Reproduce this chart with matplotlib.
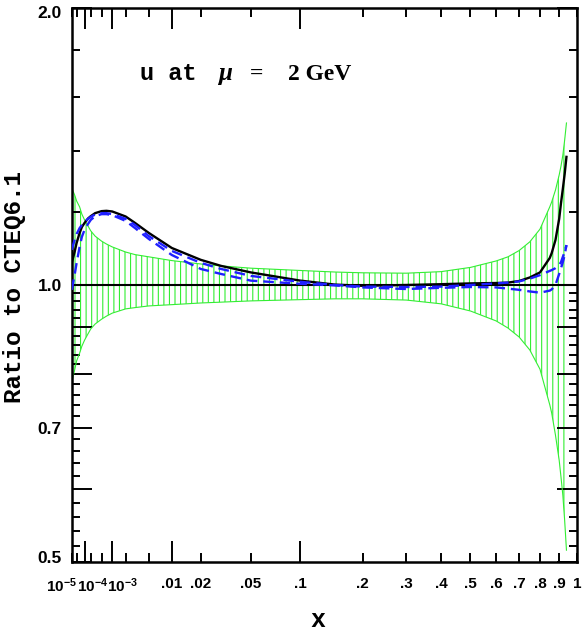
import numpy as np
import matplotlib
matplotlib.use("Agg")
import matplotlib.pyplot as plt
from matplotlib.ticker import FixedLocator, FixedFormatter, NullFormatter
from matplotlib.transforms import ScaledTranslation

plt.rcParams['font.family'] = ['Liberation Sans', 'DejaVu Sans']
plt.rcParams['font.weight'] = 'bold'
plt.rcParams['mathtext.fontset'] = 'custom'
plt.rcParams['mathtext.rm'] = 'Liberation Serif:bold'
plt.rcParams['mathtext.it'] = 'Liberation Serif:italic:bold'
plt.rcParams['mathtext.bf'] = 'Liberation Sans:bold'
plt.rcParams['hatch.linewidth'] = 0.8

# ---------------- data ----------------
x = [1e-5, 2e-5, 3e-5, 5e-5, 7e-5, 1e-4, 1.5e-4, 2e-4, 3e-4, 5e-4, 7e-4, 1e-3, 2e-3, 3e-3, 5e-3,
     0.01, 0.02, 0.03, 0.05, 0.1, 0.15, 0.2, 0.3, 0.4, 0.5, 0.6, 0.65, 0.7, 0.75, 0.8, 0.85,
     0.86, 0.88, 0.9, 0.91, 0.92, 0.93, 0.94]
band_hi = [1.275, 1.253, 1.234, 1.216, 1.194, 1.177, 1.159, 1.145, 1.130, 1.116, 1.108, 1.100,
           1.086, 1.079, 1.073, 1.063, 1.054, 1.049, 1.043, 1.037, 1.033, 1.031, 1.030, 1.034,
           1.045, 1.062, 1.073, 1.090, 1.114, 1.150, 1.216, 1.231, 1.268, 1.317, 1.347, 1.384,
           1.437, 1.500]
band_lo = [0.784, 0.808, 0.827, 0.843, 0.858, 0.871, 0.885, 0.896, 0.907, 0.918, 0.925, 0.932,
           0.942, 0.945, 0.949, 0.952, 0.956, 0.958, 0.961, 0.964, 0.966, 0.966, 0.963, 0.954,
           0.937, 0.914, 0.898, 0.878, 0.850, 0.810, 0.741, 0.726, 0.687, 0.645, 0.618, 0.591,
           0.555, 0.515]
black = [1.057, 1.086, 1.111, 1.139, 1.156, 1.168, 1.181, 1.188, 1.197, 1.203, 1.204, 1.202,
         1.187, 1.168, 1.139, 1.097, 1.065, 1.049, 1.032, 1.011, 1.001, 0.998, 1.000, 1.002,
         1.004, 1.005, 1.006, 1.010, 1.019, 1.032, 1.070, 1.083, 1.119, 1.180, 1.228, 1.272,
         1.320, 1.378]
blue1 = [1.092, 1.119, 1.136, 1.153, 1.162, 1.171, 1.180, 1.186, 1.193, 1.197, 1.197, 1.194,
         1.180, 1.162, 1.130, 1.089, 1.057, 1.041, 1.023, 1.008, 1.000, 0.996, 0.995, 0.996,
         1.000, 1.004, 1.006, 1.009, 1.016, 1.025, 1.036, 1.038, 1.043, 1.051, 1.059, 1.073,
         1.086, 1.105]
blue2 = [0.988, 1.025, 1.057, 1.100, 1.128, 1.148, 1.165, 1.177, 1.188, 1.194, 1.194, 1.191,
         1.174, 1.153, 1.122, 1.078, 1.041, 1.028, 1.011, 1.003, 0.999, 0.994, 0.990, 0.993,
         0.995, 0.994, 0.991, 0.988, 0.984, 0.981, 0.986, 0.989, 1.000, 1.028, 1.043, 1.059,
         1.078, 1.105]

x_major = [1e-4, 1e-3, 1e-2, 1e-1]
x_major_labels = [r'$\mathbf{10^{-4}}$', r'$\mathbf{10^{-3}}$', '.01', '.1']
x_minor = [1e-5, 3e-5, 2e-4, 5e-4, 2e-3, 5e-3, 0.02, 0.05, 0.2, 0.3, 0.4, 0.5, 0.6, 0.7, 0.8, 0.9, 1.0]
x_minor_labels = [r'$\mathbf{10^{-5}}$', '', '', '', '', '', '.02', '.05', '.2', '.3', '.4', '.5',
                  '.6', '.7', '.8', '.9', '1']
y_major = [0.5, 0.6, 0.7, 0.8, 0.9, 1.0, 2.0]
y_major_labels = ['0.5', '', '0.7', '', '', '1.0', '2.0']
y_minor = [0.52, 0.54, 0.56, 0.58, 0.62, 0.64, 0.66, 0.68, 0.72, 0.74, 0.76, 0.78,
           0.82, 0.84, 0.86, 0.88, 0.92, 0.94, 0.96, 0.98, 1.2, 1.4, 1.6, 1.8]

# ---------------- figure ----------------
W, H = 582, 632
fig = plt.figure(figsize=(W / 100, H / 100), dpi=100)
L, R, T, B = 71.7, 577, 8, 562
ax = fig.add_axes([L / W, 1 - B / H, (R - L) / W, (B - T) / H])

ax.set_xscale('function', functions=(lambda v: np.cbrt(v), lambda v: np.asarray(v) ** 3))
ax.set_yscale('log')
ax.set_xlim(1e-5, 1.0)
ax.set_ylim(0.5, 2.0)

green = '#33ee33'
ax.fill_between(x, band_lo, band_hi, facecolor='none', edgecolor=green, hatch='|||',
                linewidth=0, zorder=1)
ax.plot(x, band_hi, color=green, lw=0.8, zorder=2)
ax.plot(x, band_lo, color=green, lw=0.8, zorder=2)
ax.axhline(1.0, color='black', lw=1.5, zorder=3)
ax.plot(x, black, color='black', lw=1.7, zorder=4, solid_joinstyle='round')
ax.plot(x, blue1, color='#1f1fff', lw=1.7, ls=(0, (4.5, 2.5)), zorder=5)
ax.plot(x, blue2, color='#1f1fff', lw=1.7, ls=(0, (4.5, 2.5)), zorder=5)

# ticks
ax.xaxis.set_major_locator(FixedLocator(x_major))
ax.xaxis.set_major_formatter(FixedFormatter(x_major_labels))
ax.xaxis.set_minor_locator(FixedLocator(x_minor))
ax.xaxis.set_minor_formatter(FixedFormatter(x_minor_labels))
ax.yaxis.set_major_locator(FixedLocator(y_major))
ax.yaxis.set_major_formatter(FixedFormatter(y_major_labels))
ax.yaxis.set_minor_locator(FixedLocator(y_minor))
ax.yaxis.set_minor_formatter(NullFormatter())

for s in ax.spines.values():
    s.set_linewidth(1.8)

ax.tick_params(axis='both', which='both', direction='in', top=True, right=True, width=1.4)
ax.tick_params(axis='x', which='major', length=15, pad=10.5, labelsize=11)
ax.tick_params(axis='x', which='minor', length=6.5, pad=10.5, labelsize=11)
ax.tick_params(axis='y', which='major', length=14.5, pad=7, labelsize=12.5)
ax.tick_params(axis='y', which='minor', length=6, pad=7)

fig.canvas.draw()
# shift the power-of-ten labels like the reference
offsets = {r'$\mathbf{10^{-5}}$': -10, r'$\mathbf{10^{-4}}$': 8, r'$\mathbf{10^{-3}}$': 10}
for lab in ax.get_xticklabels(which='both'):
    t = lab.get_text()
    if t in offsets:
        lab.set_transform(lab.get_transform() +
                          ScaledTranslation(offsets[t] / 100, 0, fig.dpi_scale_trans))
for lab in ax.get_yticklabels():
    if lab.get_text() == '2.0':
        lab.set_transform(lab.get_transform() +
                          ScaledTranslation(0, -4 / 100, fig.dpi_scale_trans))
    if lab.get_text() == '0.5':
        lab.set_transform(lab.get_transform() +
                          ScaledTranslation(0, 5 / 100, fig.dpi_scale_trans))

# title pieces
mono = ['Liberation Mono', 'DejaVu Sans']
serif = ['Liberation Serif', 'DejaVu Serif']
fig.text(140 / W, 1 - 80 / H, 'u at', fontsize=17, family=mono, weight='bold',
         ha='left', va='baseline')
fig.text(217 / W, 1 - 80 / H, r'$\mu$', fontsize=18, ha='left', va='baseline')
fig.text(250 / W, 1 - 80 / H, '=', fontsize=17, family=serif, weight='bold',
         ha='left', va='baseline')
fig.text(288 / W, 1 - 80 / H, '2 GeV', fontsize=17, family=serif, weight='bold',
         ha='left', va='baseline')

fig.text(15 / W, 1 - 287 / H, 'Ratio to CTEQ6.1', fontsize=17.5, rotation=90,
         family=mono, weight='bold', ha='center', va='center')
fig.text(318 / W, 1 - 620 / H, 'x', fontsize=18, family=mono, weight='bold',
         ha='center', va='center')

fig.savefig('out.png', dpi=100)
